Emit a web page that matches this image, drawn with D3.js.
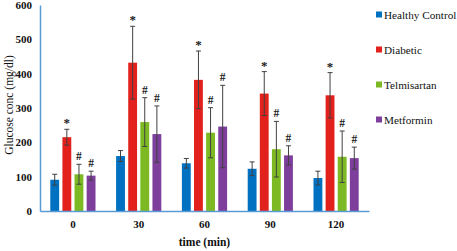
<!DOCTYPE html>
<html lang="en">
<head>
    <meta charset="UTF-8">
    <script type="text/javascript" src="https://d3js.org/d3.v7.min.js"></script>
    <title>Glucose</title>
    <style>
        body { margin: 0; background: #fff; }
        svg text { font-family: "Liberation Serif", "DejaVu Serif", serif !important; }
    </style>
</head>
<body>
    <svg id="plot"></svg>
    <script>
        const width = 457;
        const height = 251;
        const margin = {"top": 5, "bottom": 40, "left": 40, "right": 88};

        const times = ["0", "30", "60", "90", "120"];
        const groups = ["Healthy Control", "Diabetic", "Telmisartan", "Metformin"];
        const colors = ["#0070C0", "#E2211C", "#7DB922", "#7D3F9B"];
        const healthy = [91, 160, 139, 123, 96];
        const healthyErr = [16, 16, 14, 20, 20];
        const diabetic = [215, 432, 382, 342, 337];
        const diabeticErr = [23, 106, 84, 64, 66];
        const telmisartan = [107, 259, 228, 180, 158];
        const telmisartanErr = [29, 71, 73, 81, 75];
        const metformin = [103, 224, 246, 162, 154];
        const metforminErr = [13, 82, 120, 28, 32];
        const marks = ["", "*", "#", "#"];
        const yTicks = [0, 100, 200, 300, 400, 500, 600];

        const series = [
            {name: groups[0], values: healthy, err: healthyErr},
            {name: groups[1], values: diabetic, err: diabeticErr},
            {name: groups[2], values: telmisartan, err: telmisartanErr},
            {name: groups[3], values: metformin, err: metforminErr}
        ];

        const svg = d3.select("#plot").attr("width", width).attr("height", height);

        const x = d3.scaleBand().domain(times)
            .range([margin.left, width - margin.right]);
        const xs = d3.scaleBand().domain(groups)
            .range([0, x.bandwidth()]).paddingOuter(0.85).paddingInner(0.27);
        const y = d3.scaleLinear().domain([0, 600])
            .range([height - margin.bottom, margin.top]);

        // bars + error bars
        series.forEach((s, si) => {
            const g = svg.append("g");
            times.forEach((t, i) => {
                const bx = x(t) + xs(s.name);
                const cx = bx + xs.bandwidth() / 2;
                const v = s.values[i], e = s.err[i];
                g.append("rect")
                    .attr("x", bx).attr("y", y(v))
                    .attr("width", xs.bandwidth()).attr("height", y(0) - y(v))
                    .attr("fill", colors[si]);
                g.append("line").attr("x1", cx).attr("x2", cx)
                    .attr("y1", y(v - e)).attr("y2", y(v + e))
                    .attr("stroke", "#404040").attr("stroke-width", 1);
                [v - e, v + e].forEach(w => {
                    g.append("line").attr("x1", cx - 2.5).attr("x2", cx + 2.5)
                        .attr("y1", y(w)).attr("y2", y(w))
                        .attr("stroke", "#404040").attr("stroke-width", 1);
                });
                if (marks[si]) {
                    g.append("text").attr("x", cx)
                        .attr("y", y(v + e) - (marks[si] == "*" ? 2 : 4))
                        .attr("text-anchor", "middle")
                        .attr("font-size", marks[si] == "*" ? 13 : 11.5)
                        .attr("font-weight", "bold")
                        .attr("fill", "#1a1a1a")
                        .text(marks[si]);
                }
            });
        });

        // axes
        const xAxis = d3.axisBottom(x).tickSize(0).tickPadding(9);
        svg.append("g").attr("transform", `translate(0, ${y(0)})`).call(xAxis)
            .call(g => g.select(".domain").attr("stroke", "#5B9BD5").attr("stroke-width", 1.5))
            .call(g => g.selectAll("text").attr("font-size", 11).attr("font-weight", "bold")
                .attr("fill", "#111"));
        const yAxis = d3.axisLeft(y).tickValues(yTicks).tickSize(0).tickPadding(8);
        svg.append("g").attr("transform", `translate(${margin.left}, 0)`).call(yAxis)
            .call(g => g.select(".domain").attr("stroke", "#5B9BD5").attr("stroke-width", 1.5))
            .call(g => g.selectAll("text").attr("font-size", 11).attr("font-weight", "bold")
                .attr("fill", "#111"));

        svg.append("text")
            .attr("transform", `translate(13, ${y(300) - 3}) rotate(-90)`)
            .attr("text-anchor", "middle").attr("font-size", 11.5)
            .attr("fill", "#111")
            .text("Glucose conc (mg/dl)");
        svg.append("text")
            .attr("x", (margin.left + width - margin.right) / 2).attr("y", 246)
            .attr("text-anchor", "middle").attr("font-size", 11.5)
            .attr("font-weight", "bold").attr("fill", "#111")
            .text("time (min)");

        // legend
        const legend = svg.append("g").attr("transform", "translate(376, 15)");
        groups.forEach((name, i) => {
            const row = legend.append("g").attr("transform", `translate(0, ${i * 35})`);
            row.append("rect").attr("x", 0).attr("y", -3.5).attr("width", 6).attr("height", 6)
                .attr("fill", colors[i]);
            row.append("text").attr("x", 8).attr("y", 4)
                .attr("font-size", 11.2).attr("fill", "#111").text(name);
        });
    </script>
</body>
</html>
